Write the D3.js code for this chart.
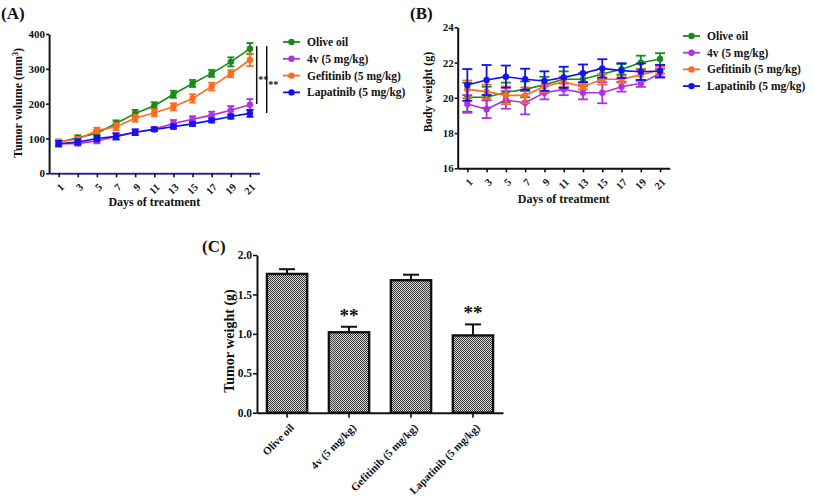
<!DOCTYPE html>
<html><head><meta charset="utf-8">
<script src="https://cdn.jsdelivr.net/npm/d3@7"></script>
<style>
body{margin:0;background:#fff}
svg{display:block}
text{font-family:"Liberation Serif","Times New Roman",serif;font-weight:bold;fill:#111}
</style>
</head><body>
<svg id="c" width="813" height="502"></svg>
<script>
// ---------- DATA ----------
const days = [1,3,5,7,9,11,13,15,17,19,21];
const seriesNames = ["Olive oil","4v (5 mg/kg)","Gefitinib (5 mg/kg)","Lapatinib (5 mg/kg)"];
const seriesColors = ["#178a17","#b030e6","#ff6a1e","#1212f0"];

// Panel A: tumor volume (mm3)
const volOlive    = [89,102,115,143,172,194,227,258,287,320,358];
const volOliveErr = [6,7,8,9,10,10,10,10,10,13,16];
const vol4v       = [84,86,93,106,118,127,143,155,167,181,197];
const vol4vErr    = [6,6,7,8,8,6,10,9,10,12,16];
const volGef      = [91,98,123,134,158,174,191,215,249,286,326];
const volGefErr   = [6,6,8,10,10,10,10,12,11,10,18];
const volLap      = [85,90,100,106,118,126,134,142,152,163,172];
const volLapErr   = [8,8,8,9,8,5,6,6,6,6,10];
const volTicks    = [0,100,200,300,400];
// significance brackets (value ranges) and labels
const volSig = [{from:365,to:199,label:"**"},{from:365,to:173,label:"**"}];

// Panel B: body weight (g)
const bwOlive    = [20.03,20.03,20.31,20.48,20.74,21.05,21.05,21.35,21.62,21.99,22.2];
const bwOliveErr = [0.82,0.6,0.55,0.45,0.45,0.45,0.35,0.3,0.3,0.4,0.33];
const bw4v       = [19.65,19.35,19.88,19.72,20.29,20.48,20.29,20.29,20.63,20.82,21.39];
const bw4vErr    = [0.5,0.5,0.5,0.66,0.38,0.33,0.38,0.6,0.28,0.2,0.25];
const bwGef      = [20.48,20.35,20.14,20.14,20.65,20.9,20.63,21.05,21.05,21.3,21.58];
const bwGefErr   = [0.5,0.4,0.5,0.45,0.35,0.3,0.15,0.3,0.2,0.35,0.2];
const bwLap      = [20.73,21.01,21.2,21.05,20.95,21.16,21.39,21.67,21.54,21.48,21.52];
const bwLapErr   = [0.9,0.85,0.63,0.6,0.55,0.6,0.5,0.52,0.42,0.47,0.35];
const bwTicks    = [16,18,20,22,24];

// Panel C: tumor weight (g)
const twValues = [1.76,1.02,1.68,0.98];
const twErr    = [0.06,0.07,0.07,0.14];
const twSig    = ["","**","","**"];
const twTicks  = [0,0.5,1.0,1.5,2.0];

// ---------- DRAW ----------
const svg = d3.select("#c");
const defs = svg.append("defs");
const pat = defs.append("pattern").attr("id","dots").attr("patternUnits","userSpaceOnUse")
  .attr("width",2).attr("height",2);
pat.append("rect").attr("width",2).attr("height",2).attr("fill","#d6d6d6");
pat.append("rect").attr("x",0).attr("y",0).attr("width",1).attr("height",1).attr("fill","#3a3a3a");
pat.append("rect").attr("x",1).attr("y",1).attr("width",1).attr("height",1).attr("fill","#3a3a3a");

function styleAxis(g, color){
  g.selectAll(".domain").attr("stroke", color||"#111").attr("stroke-width",2);
  g.selectAll(".tick line").attr("stroke","#111").attr("stroke-width",1.6);
  g.selectAll("text").attr("fill","#111");
}

function lineChart(cfg){
  const x = d3.scaleLinear().domain([0,22]).range(cfg.xr);
  const y = d3.scaleLinear().domain(cfg.yd).range(cfg.yr);
  const gx = svg.append("g").attr("transform",`translate(0,${cfg.yr[0]})`)
    .call(d3.axisBottom(x).tickValues(days).tickSize(4).tickSizeOuter(0).tickFormat(d3.format("d")));
  styleAxis(gx, cfg.xAxisColor);
  gx.selectAll("text").attr("x",0).attr("y",0).attr("dy","0.35em")
    .attr("transform","translate(3,12) rotate(-45)").style("text-anchor","end")
    .style("font-size","10.5px");
  const gy = svg.append("g").attr("transform",`translate(${x(0)},0)`)
    .call(d3.axisLeft(y).tickValues(cfg.yTicks).tickSize(3).tickSizeOuter(0).tickPadding(1).tickFormat(d3.format("d")));
  styleAxis(gy);
  gy.selectAll("text").style("font-size","11px");

  const line = d3.line().x((d,i)=>x(days[i])).y(d=>y(d));
  cfg.series.forEach((s,k)=>{
    const col = seriesColors[k];
    const g = svg.append("g");
    g.append("path").datum(s.v).attr("d",line).attr("fill","none").attr("stroke",col).attr("stroke-width",1.6);
    s.v.forEach((v,i)=>{
      const cx = x(days[i]), t = y(v+s.e[i]), b = y(v-s.e[i]);
      g.append("line").attr("x1",cx).attr("x2",cx).attr("y1",t).attr("y2",b).attr("stroke",col).attr("stroke-width",1.8);
      [t,b].forEach(yy=>g.append("line").attr("x1",cx-cfg.cap).attr("x2",cx+cfg.cap).attr("y1",yy).attr("y2",yy).attr("stroke",col).attr("stroke-width",1.8));
      g.append("circle").attr("cx",cx).attr("cy",y(v)).attr("r",3.2).attr("fill",col);
    });
  });
  // titles
  svg.append("text").attr("x",(x(0)+x(22))/2).attr("y",cfg.xTitleY).attr("text-anchor","middle")
    .style("font-size","12px").text("Days of treatment");
  const yt = svg.append("text").attr("transform",`translate(${cfg.yTitleX},${cfg.yTitleC}) rotate(-90)`)
    .attr("text-anchor","middle").attr("dy","0.35em").style("font-size","12px");
  cfg.yTitle(yt);
  svg.append("text").attr("x",cfg.label[0]).attr("y",cfg.label[1]).style("font-size","17px").text(cfg.label[2]);
  // legend
  seriesNames.forEach((n,k)=>{
    const ly = cfg.leg[1] + k*cfg.legStep;
    svg.append("line").attr("x1",cfg.leg[0]).attr("x2",cfg.leg[0]+17).attr("y1",ly).attr("y2",ly)
      .attr("stroke",seriesColors[k]).attr("stroke-width",1.8);
    svg.append("circle").attr("cx",cfg.leg[0]+8.5).attr("cy",ly).attr("r",3.2).attr("fill",seriesColors[k]);
    svg.append("text").attr("x",cfg.leg[0]+24).attr("y",ly).attr("dy","0.35em").style("font-size","11.5px").text(n);
  });
  return {x,y};
}

const A = lineChart({
  xr:[49.1,259.5], yd:[0,400], yr:[173.3,34], yTicks:volTicks, cap:3.5, xAxisColor:"#2b2b90",
  series:[{v:volOlive,e:volOliveErr},{v:vol4v,e:vol4vErr},{v:volGef,e:volGefErr},{v:volLap,e:volLapErr}],
  xTitleY:206, yTitleX:18, yTitleC:103,
  yTitle:t=>{t.append("tspan").text("Tumor volume (mm");
    t.append("tspan").attr("baseline-shift","super").style("font-size","8px").text("3");
    t.append("tspan").text(")");},
  label:[1,19,"(A)"], leg:[283,42], legStep:16.8
});
// significance brackets panel A
volSig.forEach((s,i)=>{
  const lx = 256.7 + i*10;
  svg.append("line").attr("x1",lx).attr("x2",lx).attr("y1",A.y(s.from)).attr("y2",A.y(s.to))
    .attr("stroke","#111").attr("stroke-width",1.5);
  svg.append("text").attr("x",lx+1.5).attr("y",(A.y(s.from)+A.y(s.to))/2+8).style("font-size","10px").text(s.label);
});

lineChart({
  xr:[457.7,669.7], yd:[16,24], yr:[168.3,27.3], yTicks:bwTicks, cap:5,
  series:[{v:bwOlive,e:bwOliveErr},{v:bw4v,e:bw4vErr},{v:bwGef,e:bwGefErr},{v:bwLap,e:bwLapErr}],
  xTitleY:203, yTitleX:428, yTitleC:92,
  yTitle:t=>t.text("Body weight (g)"),
  label:[410,19,"(B)"], leg:[683,36], legStep:16.7
});

// Panel C
(function(){
  const x = d3.scaleBand().domain(seriesNames).range([257,503]).paddingInner(0.35).paddingOuter(0.16);
  const y = d3.scaleLinear().domain([0,2]).range([412.7,255]);
  const bars = svg.append("g");
  seriesNames.forEach((n,i)=>{
    const bx = x(n), bw = x.bandwidth(), cx = bx+bw/2;
    bars.append("line").attr("x1",cx).attr("x2",cx).attr("y1",y(twValues[i])).attr("y2",y(twValues[i]+twErr[i]))
      .attr("stroke","#111").attr("stroke-width",2);
    bars.append("line").attr("x1",cx-8).attr("x2",cx+8).attr("y1",y(twValues[i]+twErr[i])).attr("y2",y(twValues[i]+twErr[i]))
      .attr("stroke","#111").attr("stroke-width",2);
    bars.append("rect").attr("x",bx).attr("y",y(twValues[i])).attr("width",bw).attr("height",y(0)-y(twValues[i]))
      .attr("fill","url(#dots)").attr("stroke","#111").attr("stroke-width",2.4);
    if(twSig[i]) svg.append("text").attr("x",cx).attr("y",y(twValues[i]+twErr[i])-5).attr("text-anchor","middle")
      .style("font-size","19px").text(twSig[i]);
  });
  const gx = svg.append("g").attr("transform",`translate(0,${y(0)})`)
    .call(d3.axisBottom(x).tickSize(5).tickSizeOuter(0));
  styleAxis(gx);
  gx.selectAll("text").attr("x",0).attr("y",0).attr("dy","0.35em")
    .attr("transform","translate(5,13) rotate(-45)").style("text-anchor","end").style("font-size","11px");
  const gy = svg.append("g").attr("transform",`translate(257,0)`)
    .call(d3.axisLeft(y).tickValues(twTicks).tickSize(4).tickSizeOuter(0).tickPadding(1).tickFormat(d3.format(".1f")));
  styleAxis(gy);
  gy.selectAll("text").style("font-size","11.5px");
  svg.append("text").attr("transform",`translate(229,341) rotate(-90)`).attr("text-anchor","middle").attr("dy","0.35em")
    .style("font-size","14px").text("Tumor weight (g)");
  svg.append("text").attr("x",202).attr("y",252).style("font-size","17px").text("(C)");
})();
</script>
</body></html>
